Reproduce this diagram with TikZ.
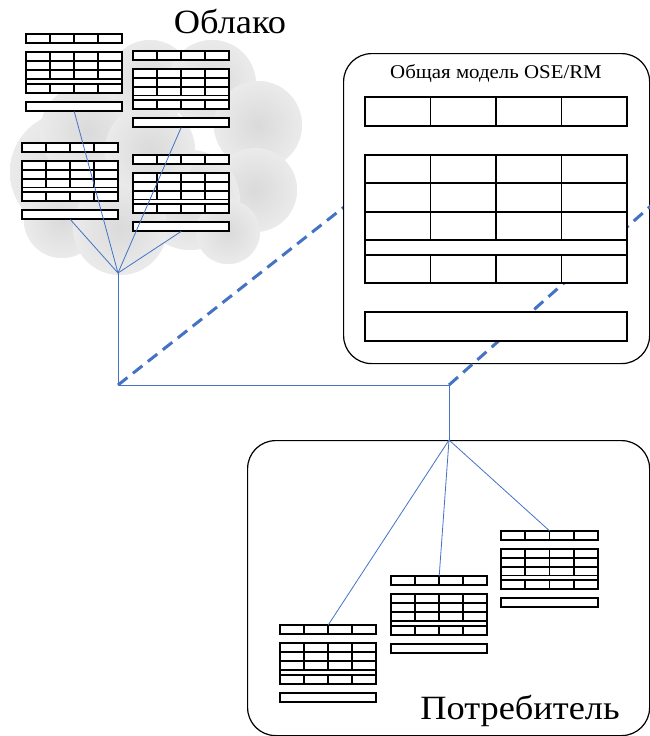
\documentclass[tikz,border=0pt]{standalone}
\usepackage{fontspec}
\setmainfont{Liberation Serif}
\newfontfamily\widefont[FakeStretch=1.07]{Liberation Serif}
\usetikzlibrary{calc}
\definecolor{linkblue}{HTML}{4472C4}
\tikzset{
  link/.style={draw=linkblue, line width=0.8pt},
  layerlink/.style={draw=linkblue, line width=3pt, dash pattern=on 12pt off 7pt},
  panel/.style={draw=black, line width=1.2pt, rounded corners=28pt, fill=white, inner sep=0pt},
  puffbase/.style={fill=gray!16},
  puff/.style={inner color=gray!29, outer color=gray!16},
  biglabel/.style={font=\widefont\fontsize{34}{38}\selectfont, anchor=base, inner sep=0pt},
  titlelabel/.style={font=\widefont\fontsize{19.5}{22}\selectfont, anchor=base, inner sep=0pt}
}
% A data module: top row of four cells, a block of cell rows, and a bar.
% #1 name, #2 left, #3 top, #4 width, #5 height, #6 line width (pt)
\newcommand{\tablemod}[6]{%
  \node[inner sep=0pt, minimum width=#4pt, minimum height=#5pt, anchor=north west] (#1) at (#2,#3) {};
  \begin{scope}[shift={(#2,#3)}, x=#4pt, y=#5pt, yscale=-1, line width=#6pt]
    \filldraw[fill=white] (0,0) rectangle (1,0.119);
    \foreach \c in {0.25,0.5,0.75} \draw (\c,0) -- (\c,0.119);
    \filldraw[fill=white] (0,0.238) rectangle (1,0.762);
    \foreach \r in {0.352,0.471,0.586,0.648} \draw (0,\r) -- (1,\r);
    \foreach \c in {0.25,0.5,0.75} {
      \draw (\c,0.238) -- (\c,0.586);
      \draw (\c,0.648) -- (\c,0.762);
    }
    \filldraw[fill=white] (0,0.881) rectangle (1,1);
  \end{scope}}

\begin{document}
\begin{tikzpicture}[x=1pt, y=-1pt]
\useasboundingbox (0,0) rectangle (650,736);
\clip (0,0) rectangle (650,736);

% cloud: an even base of puffs, then softly shaded puffs on top
\def\puffs{70/172/60, 88/132/48, 150/82/42, 212/84/44, 258/125/44,
           255/190/42, 190/200/50, 62/220/38, 120/228/47, 228/232/32, 150/150/45}
\foreach \cx/\cy/\r in \puffs \fill[puffbase] (\cx,\cy) circle (\r);
\foreach \cx/\cy/\r in \puffs \shade[puff] (\cx,\cy) circle (\r);
\node[biglabel] (cloudlabel) at (230,33) {Облако};

% modules in the cloud
\tablemod{m1}{26}{34}{96}{77}{1.8}
\tablemod{m2}{133}{51}{96}{76}{1.8}
\tablemod{m3}{22}{143}{96}{76}{1.8}
\tablemod{m4}{133}{155}{96}{76}{1.8}

\coordinate (cloudhub) at (118,273);
\foreach \m in {m1,m2,m3,m4} \draw[link] (\m.south) -- (cloudhub);

% trunk between cloud and consumer
\coordinate (lj) at (118,385);
\coordinate (rj) at (449,385);
\coordinate (userhub) at (449,440);
\draw[link] (cloudhub) -- (lj) -- (rj) -- (userhub);

% layer lines and the common model
\coordinate (lfar) at (400,163);
\coordinate (rfar) at (680,180);
\draw[layerlink] (lj) -- (lfar);
\node[panel, minimum width=306pt, minimum height=310pt, anchor=north west] (ose) at (343,53) {};
\draw[layerlink] (rj) -- (rfar);
\node[titlelabel] (osetitle) at (496,78) {Общая модель OSE/RM};
\tablemod{osegrid}{365}{97}{262}{244}{1.4}

% consumer
\node[panel, minimum width=402pt, minimum height=295pt, anchor=north west] (userpanel) at (247,440) {};
\node[biglabel] (userlabel) at (520,719) {Потребитель};
\tablemod{c1}{280}{625}{96}{77}{1.8}
\tablemod{c2}{391}{576}{96}{77}{1.8}
\tablemod{c3}{501}{531}{97}{76}{1.8}
\foreach \m in {c1,c2,c3} \draw[link] (userhub) -- (\m.north);
\end{tikzpicture}
\end{document}
